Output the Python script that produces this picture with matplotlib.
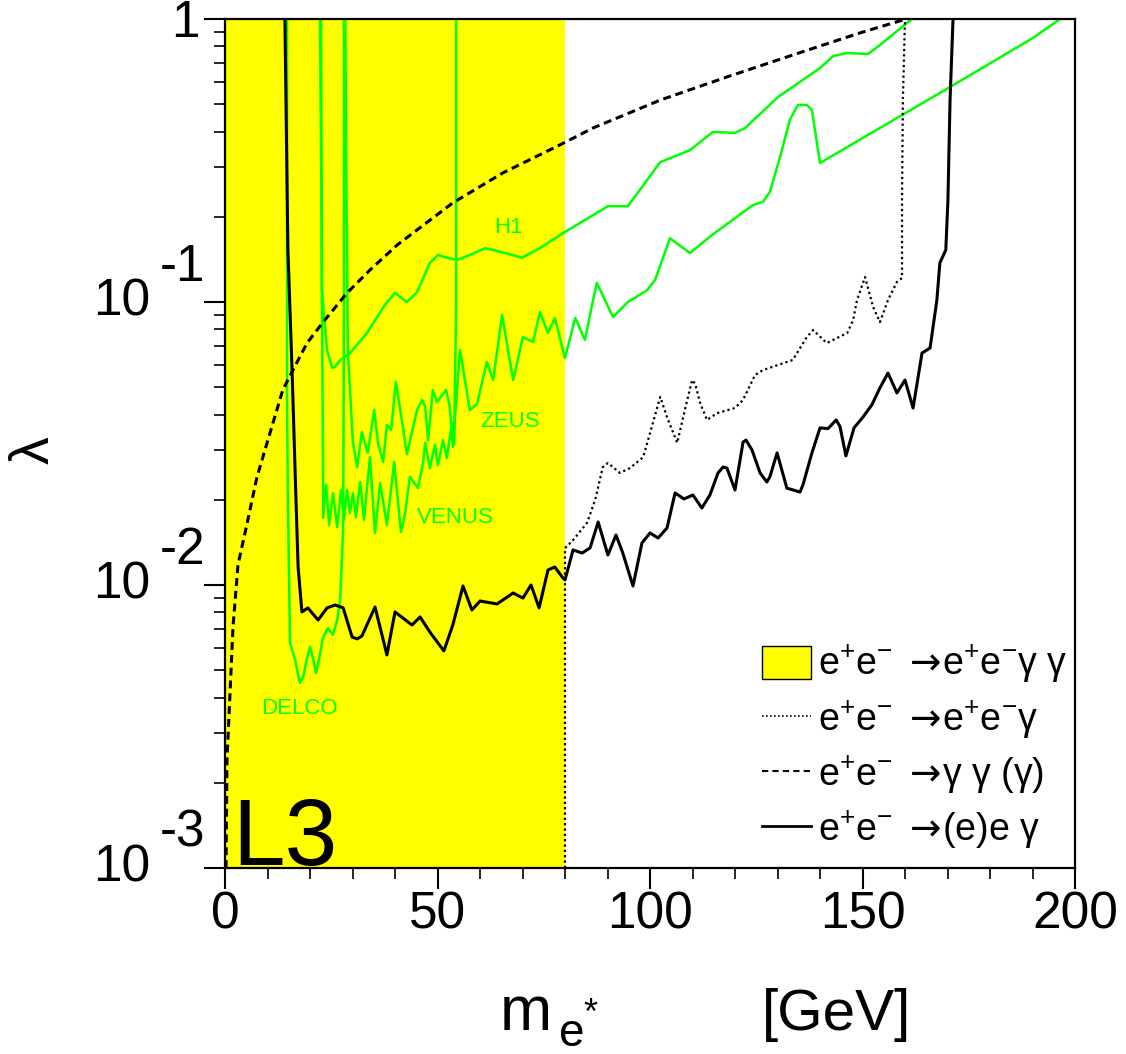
import numpy as np
import matplotlib
matplotlib.use('Agg')
import matplotlib.pyplot as plt
from matplotlib.patches import Patch
from matplotlib.lines import Line2D
from matplotlib.ticker import MultipleLocator, LogLocator, NullFormatter

plt.rcParams['font.family'] = ['Liberation Sans', 'DejaVu Sans']
plt.rcParams['mathtext.fontset'] = 'custom'
plt.rcParams['mathtext.rm'] = 'Liberation Sans'
plt.rcParams['mathtext.it'] = 'Liberation Sans:italic'
plt.rcParams['mathtext.bf'] = 'Liberation Sans:bold'
plt.rcParams['mathtext.sf'] = 'DejaVu Sans'
plt.rcParams['mathtext.default'] = 'regular'

GREEN = '#00ff00'
YELLOW = '#ffff00'

# e+e- -> e+e- gamma gamma : excluded mass range
band_m = [0, 80]

# e+e- -> gamma gamma (gamma)  (dashed)
gg_m = [0.24, 0.47, 1.18, 1.88, 3.06, 5.2, 7.5, 10.6, 13.6, 16.0, 19.3, 23.1,
        28.7, 34.1, 40.5, 53.6, 65.4, 78.8, 86.6, 102.4, 118.1, 133.6, 149.4, 160.3]
gg_lam = [0.001, 0.00241, 0.00415, 0.00711, 0.0118, 0.0165, 0.024, 0.0345, 0.0489,
          0.0575, 0.0716, 0.0849, 0.1076, 0.1297, 0.159, 0.224, 0.286, 0.359, 0.412,
          0.517, 0.624, 0.746, 0.893, 1.0]

# e+e- -> e+e- gamma  (dotted)
eeg_m = [80.0, 80.0, 81.9, 85.2, 87.1, 88.9, 90.1, 92.9, 95.3, 98.4, 100.0, 102.4,
         104.0, 106.4, 108.2, 109.9, 110.6, 111.8, 113.4, 115.8, 120.0, 121.9, 124.7,
         126.6, 133.6, 136.9, 138.4, 141.6, 146.4, 147.8, 148.7, 150.6, 152.5, 154.1,
         156.0, 158.1, 159.3, 159.3, 159.5, 160.0]
eeg_lam = [0.001, 0.0135, 0.0144, 0.0166, 0.0200, 0.0261, 0.0270, 0.0249, 0.0259,
           0.0283, 0.0344, 0.0462, 0.0392, 0.0318, 0.0415, 0.0530, 0.0515, 0.0440,
           0.0383, 0.0405, 0.0422, 0.0451, 0.0552, 0.0575, 0.0624, 0.0752, 0.0796,
           0.0716, 0.0777, 0.0863, 0.1016, 0.1225, 0.0960, 0.0849, 0.1016, 0.1177,
           0.1216, 0.229, 0.517, 1.0]

# e+e- -> (e)e gamma  (solid)
eg_m = [14.1, 14.8, 15.8, 16.7, 17.2, 18.1, 19.5, 21.9, 24.0, 25.9, 27.8, 29.9, 31.1,
        32.2, 35.3, 38.1, 40.0, 44.0, 45.9, 48.2, 51.5, 53.6, 56.0, 58.1, 60.0, 64.0,
        67.8, 70.1, 72.0, 73.9, 76.0, 77.6, 79.5, 80.0, 81.9, 84.0, 85.9, 87.8, 90.1,
        92.0, 93.6, 96.0, 98.1, 100.0, 101.9, 104.0, 105.9, 108.0, 110.1, 112.2, 114.1,
        116.0, 117.2, 118.1, 120.0, 121.9, 122.6, 124.0, 125.9, 127.5, 128.2, 129.9,
        132.2, 135.3, 136.0, 138.1, 140.0, 141.9, 143.8, 144.7, 146.1, 148.0, 150.1,
        152.2, 154.1, 156.0, 158.1, 160.0, 161.9, 164.0, 165.9, 167.5, 168.2, 169.6,
        170.1, 170.6, 171.3]
eg_lam = [1.0, 0.153, 0.0561, 0.0200, 0.01158, 0.00803, 0.00830, 0.00752, 0.00830,
          0.00850, 0.00830, 0.00655, 0.00645, 0.00660, 0.00836, 0.00566, 0.00803,
          0.00722, 0.00771, 0.00682, 0.00585, 0.00722, 0.00992, 0.00816, 0.00878,
          0.00857, 0.00937, 0.00899, 0.0100, 0.00830, 0.0113, 0.01158, 0.01059,
          0.01042, 0.0133, 0.01297, 0.01352, 0.0167, 0.01276, 0.01502, 0.01297,
          0.00992, 0.01407, 0.01527, 0.01466, 0.0159, 0.02114, 0.02014, 0.0208,
          0.01871, 0.0208, 0.02488, 0.02612, 0.0259, 0.02166, 0.0320, 0.0325, 0.0300,
          0.02488, 0.02312, 0.0241, 0.0293, 0.0220, 0.0213, 0.0226, 0.0293, 0.0359,
          0.0357, 0.0383, 0.0363, 0.0286, 0.0359, 0.0392, 0.0433, 0.0497, 0.0561,
          0.0477, 0.0530, 0.0422, 0.0660, 0.0688, 0.1016, 0.1374, 0.1527, 0.229,
          0.517, 1.0]

# H1
h1_m = [22.35, 22.6, 22.8, 24.0, 25.2, 25.9, 27.1, 29.4, 33.4, 37.6, 40.0, 41.2, 42.8,
        45.2, 48.2, 50.1, 52.2, 54.6, 57.6, 61.2, 65.9, 69.9, 74.1, 79.5, 90.1, 94.8,
        102.4, 109.4, 114.8, 120.0, 122.4, 130.1, 140.0, 143.1, 146.4, 151.3, 154.1, 161.6]
h1_lam = [1.0, 0.344, 0.110, 0.0677, 0.0585, 0.0590, 0.0624, 0.0660, 0.0777, 0.0976,
          0.1076, 0.1042, 0.100, 0.1084, 0.1374, 0.1466, 0.1434, 0.1407, 0.1466, 0.155,
          0.149, 0.1434, 0.155, 0.175, 0.218, 0.218, 0.312, 0.344, 0.399, 0.396, 0.412,
          0.530, 0.671, 0.740, 0.758, 0.752, 0.809, 1.0]

# ZEUS
zeus_m = [28.3, 28.5, 28.9, 30.1, 31.1, 32.2, 33.6, 35.1, 36.0, 37.2, 38.1, 39.1, 40.2,
          41.6, 42.8, 45.2, 46.4, 47.1, 47.8, 48.9, 49.9, 52.0, 52.9, 53.6, 55.3, 57.6,
          59.3, 61.6, 63.1, 65.2, 67.8, 70.1, 72.5, 74.1, 76.0, 77.6, 80.0, 82.4, 84.7,
          86.6, 87.5, 91.3, 94.8, 99.3, 101.2, 104.7, 109.4, 114.6, 124.2, 126.6, 128.2,
          130.6, 132.9, 134.8, 136.9, 138.1, 140.0, 170.6, 190.1, 196.5]
zeus_lam = [1.0, 0.344, 0.0677, 0.0318, 0.0261, 0.0347, 0.0293, 0.0415, 0.0318, 0.0272,
            0.0368, 0.0353, 0.0522, 0.0383, 0.0290, 0.0415, 0.0451, 0.0426, 0.0325,
            0.0489, 0.0443, 0.0489, 0.0426, 0.0308, 0.0677, 0.0415, 0.0436, 0.0614,
            0.0530, 0.0900, 0.0530, 0.0752, 0.0722, 0.0922, 0.0777, 0.0878, 0.0634,
            0.0878, 0.0734, 0.1016, 0.1167, 0.0885, 0.100, 0.110, 0.1197, 0.168, 0.149,
            0.1725, 0.220, 0.226, 0.245, 0.325, 0.440, 0.497, 0.497, 0.477, 0.310,
            0.575, 0.857, 1.0]

# VENUS
venus_m = [22.6, 22.8, 23.1, 23.1, 23.8, 24.5, 25.4, 26.4, 27.3, 28.0, 28.7, 29.4, 30.1,
           30.8, 31.8, 32.7, 34.1, 35.3, 36.5, 38.1, 39.8, 41.4, 42.4, 43.5, 45.4, 46.6,
           47.1, 48.2, 49.4, 50.1, 51.3, 52.2, 53.4, 53.9, 54.4, 54.4]
venus_lam = [1.0, 0.1016, 0.0229, 0.01725, 0.0226, 0.0163, 0.0211, 0.0160, 0.0217,
             0.0170, 0.0217, 0.01796, 0.0211, 0.01738, 0.0231, 0.0170, 0.0283, 0.01527,
             0.0229, 0.0163, 0.0272, 0.01539, 0.01796, 0.0241, 0.0220, 0.0270, 0.0318,
             0.0259, 0.0313, 0.0265, 0.0325, 0.0281, 0.0374, 0.0313, 0.1016, 1.0]

# DELCO
delco_m = [14.6, 14.6, 14.8, 15.3, 15.8, 16.5, 17.6, 18.4, 19.3, 20.0, 20.7, 21.4, 22.1,
           23.1, 24.2, 25.4, 26.4, 27.1, 27.8, 28.0, 28.0]
delco_lam = [1.0, 0.0451, 0.0200, 0.00624, 0.00589, 0.00543, 0.00451, 0.00473, 0.00552,
             0.00604, 0.00552, 0.00489, 0.00543, 0.00655, 0.00705, 0.00666, 0.00752,
             0.00885, 0.01564, 0.1016, 1.0]

# experiment labels
exp_names = ['H1', 'ZEUS', 'VENUS', 'DELCO']
exp_m = [66.6, 67.0, 54.1, 17.6]
exp_lam = [0.184, 0.0377, 0.01725, 0.00367]

y_decades = [1e-3, 1e-2, 1e-1]
y_exps = ['-3', '-2', '-1']
x_ticks = [0, 50, 100, 150, 200]

ARROW = r'$\mathsf{\rightarrow}\!$'
legend_labels = [r'e$^{+}$e$^{-}$ ' + ARROW + r'e$^{+}$e$^{-}$γ γ',
                 r'e$^{+}$e$^{-}$ ' + ARROW + r'e$^{+}$e$^{-}$γ',
                 r'e$^{+}$e$^{-}$ ' + ARROW + r'γ γ (γ)',
                 r'e$^{+}$e$^{-}$ ' + ARROW + r'(e)e γ']

DASHED = (0, (2.6, 1.6))
DOTTED = (0, (1.0, 1.4))


def draw():
    W, H = 1126, 1054
    fig = plt.figure(figsize=(W / 100, H / 100), dpi=100)
    ax = fig.add_axes([225 / W, 186 / H, 850 / W, 849 / H])

    ax.axvspan(band_m[0], band_m[1], color=YELLOW, lw=0, zorder=0)

    for m, lam in [(h1_m, h1_lam), (zeus_m, zeus_lam), (venus_m, venus_lam), (delco_m, delco_lam)]:
        ax.plot(m, lam, color=GREEN, lw=1.8, zorder=2)

    ax.plot(gg_m, gg_lam, color='black', lw=2.2, ls=DASHED, zorder=3)
    ax.plot(eeg_m, eeg_lam, color='black', lw=1.6, ls=DOTTED, zorder=3)
    ax.plot(eg_m, eg_lam, color='black', lw=2.2, zorder=4)

    for name, m, lam in zip(exp_names, exp_m, exp_lam):
        ax.text(m, lam, name, color=GREEN, fontsize=16, ha='center', va='center', zorder=5)

    ax.text(0.009, 0.004, 'L3', transform=ax.transAxes, fontsize=68,
            ha='left', va='baseline', zorder=6)

    ax.set_yscale('log')
    ax.set_xlim(0, 200)
    ax.set_ylim(1e-3, 1)

    ax.set_xticks(x_ticks)
    ax.xaxis.set_minor_locator(MultipleLocator(10))
    ax.yaxis.set_minor_locator(LogLocator(base=10, subs=np.arange(2, 10)))
    ax.yaxis.set_major_formatter(NullFormatter())
    ax.yaxis.set_minor_formatter(NullFormatter())
    ax.tick_params(axis='both', which='major', direction='out', length=15, width=1.5,
                   labelsize=37, pad=1, top=False, right=False)
    ax.tick_params(axis='both', which='minor', direction='out', length=8, width=1.2,
                   top=False, right=False)
    for sp in ax.spines.values():
        sp.set_linewidth(1.6)

    # ROOT style decade labels
    for v, e in zip(y_decades, y_exps):
        ax.annotate('10', xy=(0, v), xycoords=('axes fraction', 'data'), xytext=(-54, 0),
                    textcoords='offset points', ha='right', va='center', fontsize=37)
        ax.annotate(e, xy=(0, v), xycoords=('axes fraction', 'data'), xytext=(-14, 25),
                    textcoords='offset points', ha='right', va='center', fontsize=37)
    ax.annotate('1', xy=(0, 1), xycoords=('axes fraction', 'data'), xytext=(-18, -3),
                textcoords='offset points', ha='right', va='center', fontsize=37)

    # x title: m_{e*}   [GeV]
    fig.text(500 / W, 1 - 1030 / H, 'm', fontsize=45, ha='left', va='baseline')
    fig.text(559 / W, 1 - 1046 / H, 'e', fontsize=33, ha='left', va='baseline')
    fig.text(583 / W, 1 - 1024 / H, '*', fontsize=26, ha='left', va='baseline')
    fig.text(762 / W, 1 - 1030 / H, '[GeV]', fontsize=42, ha='left', va='baseline')
    fig.text(35 / W, 1 - 450 / H, 'λ', fontsize=40, rotation=90,
             ha='center', va='center')

    handles = [Patch(facecolor=YELLOW, edgecolor='black', lw=1.0),
               Line2D([], [], color='black', lw=1.2, ls=DOTTED),
               Line2D([], [], color='black', lw=1.5, ls=(0, (3, 2))),
               Line2D([], [], color='black', lw=2.0)]
    leg = ax.legend(handles, legend_labels, loc='lower left', bbox_to_anchor=(0.632, 0.02),
                    frameon=False, fontsize=27, borderpad=0, borderaxespad=0,
                    handlelength=1.3, handleheight=1.0, handletextpad=0.2,
                    labelspacing=0.35)
    leg.set_zorder(7)

    fig.savefig('out.png', dpi=100)


if __name__ == '__main__':
    draw()
